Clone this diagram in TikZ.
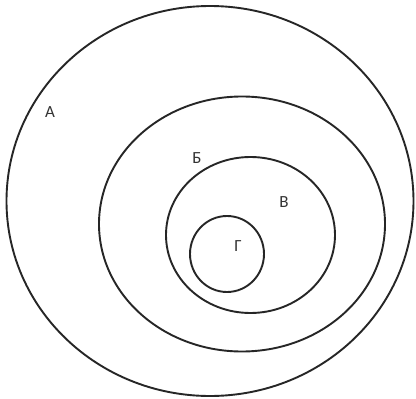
\documentclass[tikz,border=0pt]{standalone}
\usepackage{fontspec}
\setmainfont{Carlito}
\begin{document}
\begin{tikzpicture}[x=1pt,y=-1pt,
  ring/.style={draw=black!85,line width=1.9pt},
  lbl/.style={font=\fontsize{17}{17}\selectfont,text=black!80,inner sep=0pt}]
\useasboundingbox[fill=white] (0,0) rectangle (416,399);
\draw[ring] (210,201) ellipse [x radius=203.5, y radius=195];
\draw[ring] (242,224) ellipse [x radius=143, y radius=127.5];
\draw[ring] (250.5,235) ellipse [x radius=84.5, y radius=78];
\draw[ring] (227,254) ellipse [x radius=37, y radius=38];
\node[lbl] (a) at (50,112) {А};
\node[lbl] (b) at (197,158) {Б};
\node[lbl] (v) at (284,202) {В};
\node[lbl] (g) at (238,246) {Г};
\end{tikzpicture}
\end{document}
